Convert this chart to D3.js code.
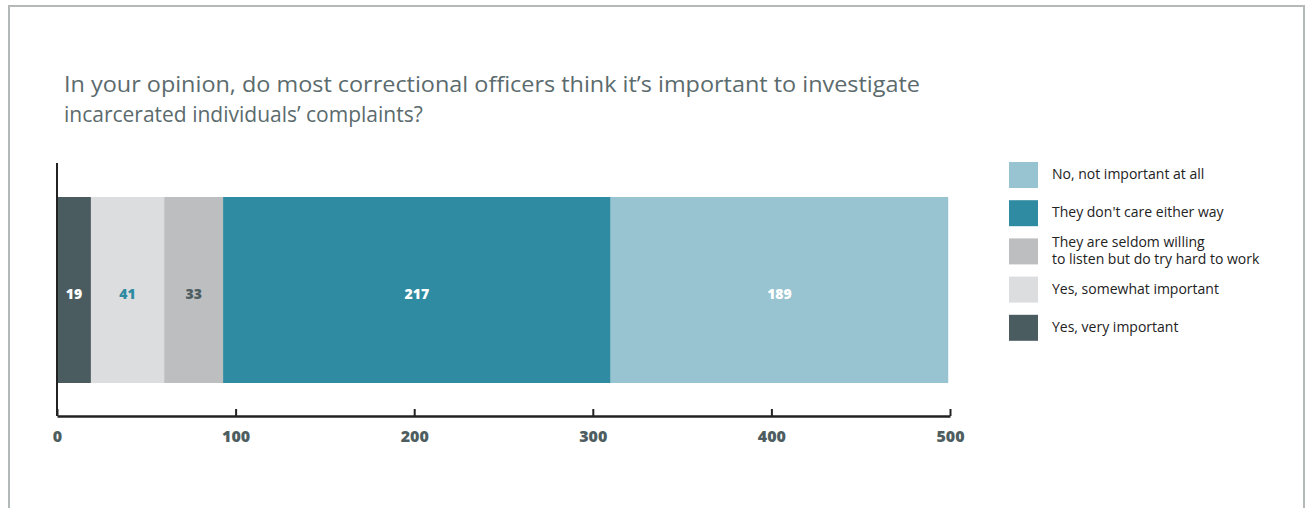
<!DOCTYPE html>
<html><head><meta charset="utf-8">
<script src="https://cdn.jsdelivr.net/npm/d3@7"></script>
<style>body{margin:0;background:#fff;}svg{display:block;}</style>
</head><body>
<svg id="c" width="1306" height="508"></svg>
<script>
const titleLines = ["In your opinion, do most correctional officers think it’s important to investigate", "incarcerated individuals’ complaints?"];
const categories = ["Yes, very important", "Yes, somewhat important", "They are seldom willing|to listen but do try hard to work", "They don't care either way", "No, not important at all"];
const values = [19, 41, 33, 217, 189];
const colors = ["#4b5c60", "#dcdddf", "#bdbec0", "#2e8ba1", "#98c3d0"];
const labelColors = ["#ffffff", "#2e8ba1", "#4e5e60", "#ffffff", "#ffffff"];
const xTicks = [0, 100, 200, 300, 400, 500];

const svg = d3.select("#c");
// frame
svg.append("path").attr("d", "M9,508 V6 H1304 V508").attr("fill", "none").attr("stroke", "#b3b8b8").attr("stroke-width", 2);

svg.append("g").selectAll("text").data(titleLines).join("text")
  .attr("x", 64).attr("y", (d, i) => 92 + i * 30)
  .attr("font-family", "'Open Sans',sans-serif").attr("font-size", 21)
  .attr("textLength", (d, i) => i === 0 ? 856 : null).attr("lengthAdjust", "spacingAndGlyphs")
  .attr("fill", "#5b6b6d").text(d => d);

const x = d3.scaleLinear().domain([0, 500]).range([57, 950]);
const y = d3.scaleBand().domain(["all"]).range([197, 383]).padding(0);

let acc = 0;
const stack = values.map((v, i) => { const s = { x0: acc, x1: acc + v, v, i }; acc += v; return s; });

svg.append("g").selectAll("rect").data(stack).join("rect")
  .attr("x", d => x(d.x0)).attr("width", d => x(d.x1) - x(d.x0))
  .attr("y", y("all")).attr("height", y.bandwidth())
  .attr("fill", d => colors[d.i]);

svg.append("g").selectAll("text").data(stack).join("text")
  .attr("x", d => (x(d.x0) + x(d.x1)) / 2).attr("y", y("all") + y.bandwidth() / 2 + 9)
  .attr("text-anchor", "middle").attr("font-family", "'Open Sans',sans-serif")
  .attr("font-weight", 800).attr("font-size", 14).attr("fill", d => labelColors[d.i])
  .text(d => d.v);

// axes
svg.append("line").attr("x1", 57).attr("x2", 57).attr("y1", 163).attr("y2", 416).attr("stroke", "#222").attr("stroke-width", 2);
const ax = svg.append("g").attr("transform", "translate(0,416)")
  .call(d3.axisBottom(x).tickValues(xTicks).tickSize(-7).tickSizeOuter(0).tickPadding(15));
ax.select(".domain").attr("stroke", "#222").attr("stroke-width", 2.5);
ax.selectAll(".tick line").attr("stroke", "#222").attr("stroke-width", 2);
ax.selectAll(".tick text").attr("font-family", "'Open Sans',sans-serif").attr("font-weight", 800)
  .attr("font-size", 16).attr("fill", "#4e5e60");

// legend
const legendOrder = [4, 3, 2, 1, 0];
const lg = svg.append("g").selectAll("g").data(legendOrder).join("g")
  .attr("transform", (d, i) => `translate(1009,${162 + i * 38.2})`);
lg.append("rect").attr("width", 29).attr("height", 26).attr("fill", d => colors[d]);
lg.each(function(d) {
  const lines = categories[d].split("|");
  const t = d3.select(this).append("text").attr("font-family", "'Open Sans',sans-serif")
    .attr("font-size", 14).attr("fill", "#222");
  lines.forEach((l, j) => {
    t.append("tspan").attr("x", 43)
      .attr("y", lines.length === 1 ? 17 : 9 + j * 17).text(l);
  });
});
</script>
</body></html>
